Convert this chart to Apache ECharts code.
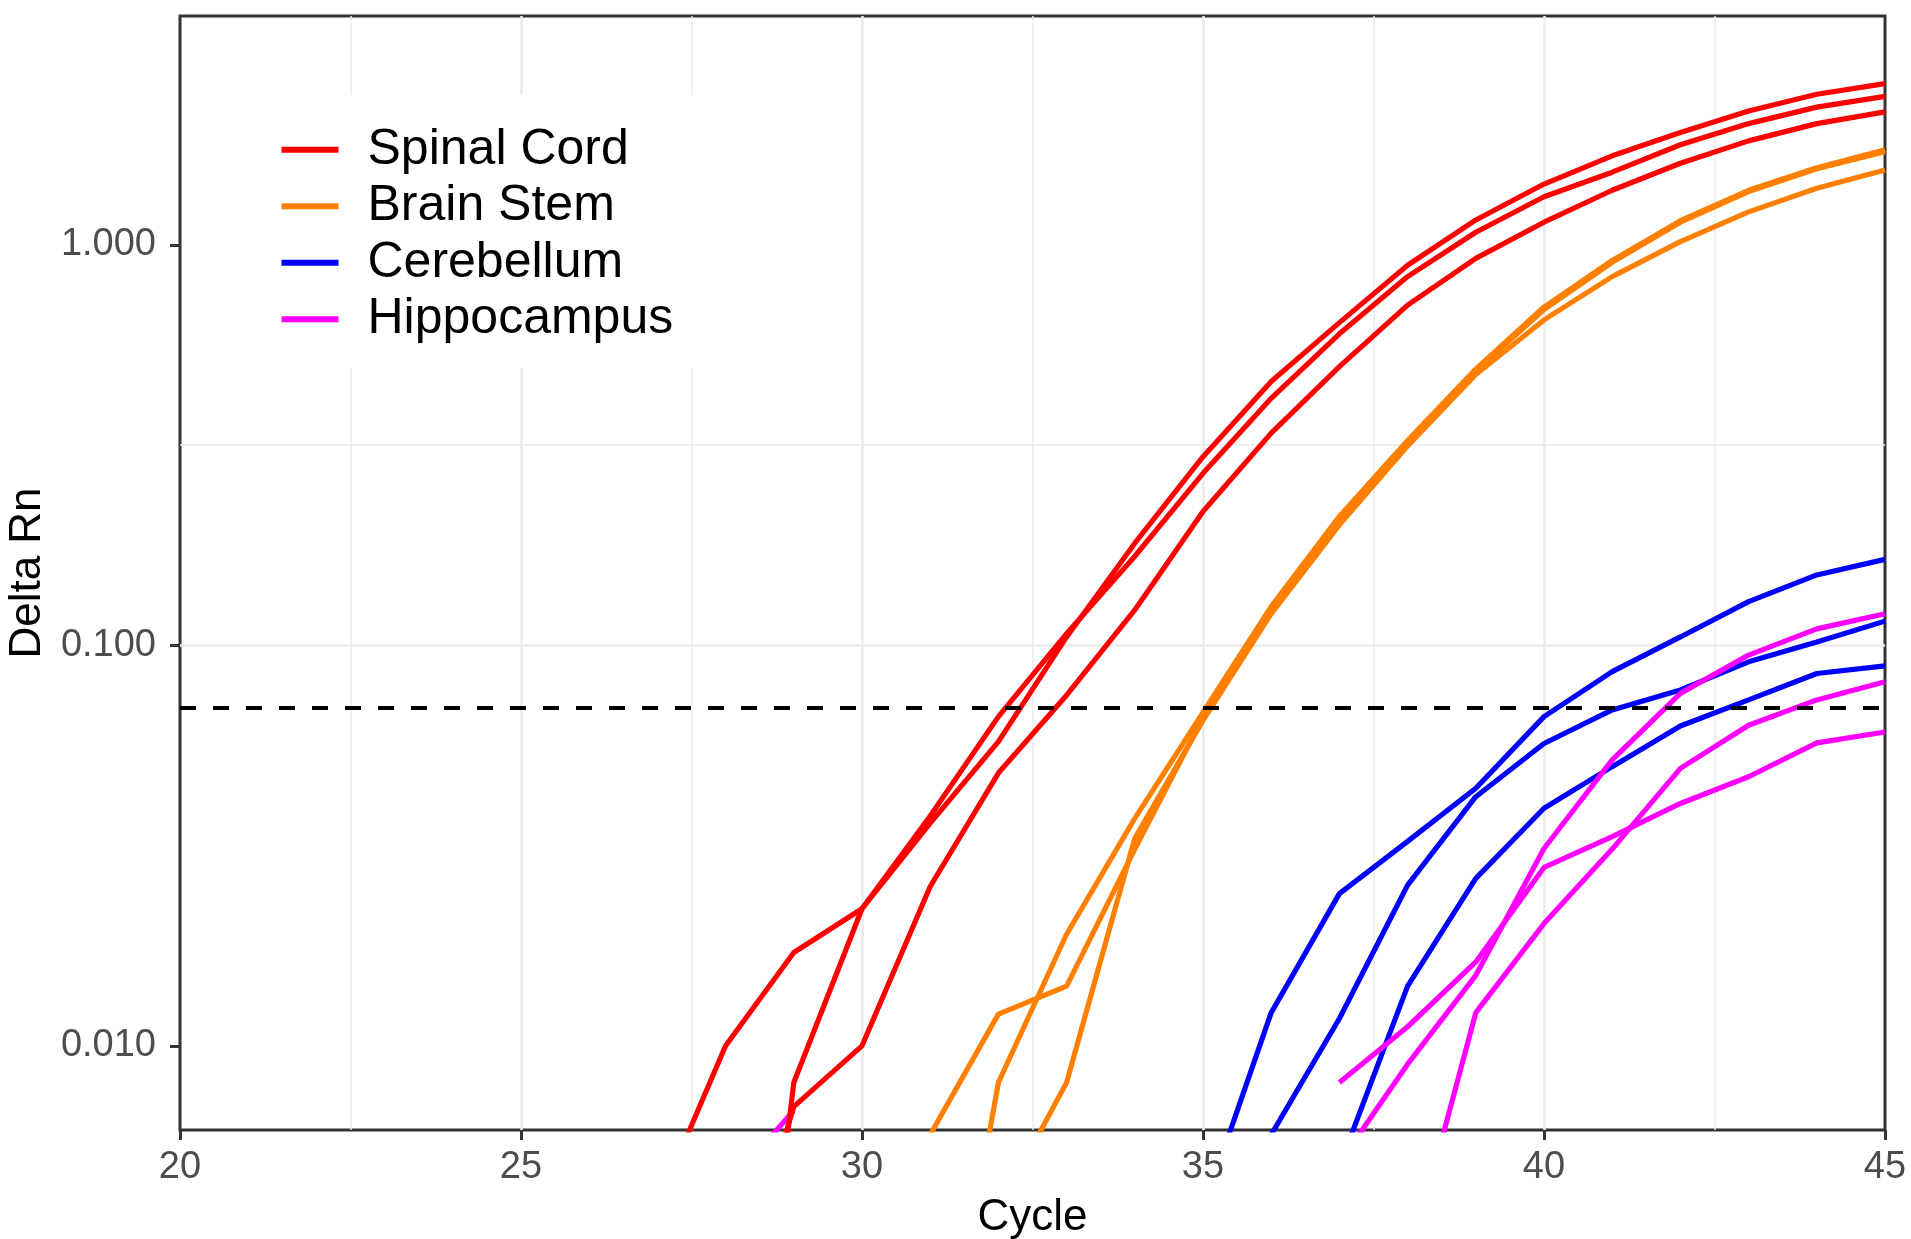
<!DOCTYPE html>
<html>
<head>
<meta charset="utf-8">
<script src="https://cdn.jsdelivr.net/npm/echarts@6/dist/echarts.min.js"></script>
<style>
html,body{margin:0;padding:0;background:#ffffff;}
#chart{width:1911px;height:1239px;}
</style>
</head>
<body>
<div id="chart"></div>
<script>
// ---------------- data ----------------
const cycles = [27, 28, 29, 30, 31, 32, 33, 34, 35, 36, 37, 38, 39, 40, 41, 42, 43, 44, 45];

const spinalCord1 = [0.0040, 0.0100, 0.0171, 0.0220, 0.0375, 0.0664, 0.107, 0.167, 0.269, 0.414, 0.60, 0.834, 1.076, 1.32, 1.52, 1.78, 2.01, 2.21, 2.35];
const spinalCord2 = [null, 0.0003, 0.0081, 0.0220, 0.036, 0.0575, 0.105, 0.18, 0.296, 0.456, 0.64, 0.89, 1.155, 1.42, 1.67, 1.91, 2.16, 2.38, 2.53];
const spinalCord3 = [null, 0.0019, 0.00705, 0.0100, 0.025, 0.048, 0.0751, 0.1226, 0.216, 0.339, 0.497, 0.708, 0.926, 1.14, 1.37, 1.60, 1.82, 2.01, 2.15];

const brainStem1 = [null, null, null, null, 0.0060, 0.0120, 0.0141, 0.031, 0.066, 0.122, 0.205, 0.322, 0.485, 0.69, 0.905, 1.14, 1.36, 1.55, 1.71];
const brainStem2 = [null, null, null, null, 0.0009, 0.0081, 0.0190, 0.037, 0.068, 0.125, 0.21, 0.325, 0.49, 0.70, 0.915, 1.15, 1.37, 1.56, 1.73];
const brainStem3 = [null, null, null, null, null, 0.0039, 0.0081, 0.033, 0.065, 0.12, 0.20, 0.315, 0.475, 0.65, 0.834, 1.02, 1.21, 1.386, 1.54];

const cerebellum1 = [null, null, null, null, null, null, null, null, 0.0039, 0.0121, 0.0240, 0.0324, 0.044, 0.0664, 0.086, 0.105, 0.1286, 0.150, 0.164];
const cerebellum2 = [null, null, null, null, null, null, null, null, null, 0.0060, 0.0117, 0.0252, 0.0419, 0.0569, 0.069, 0.0774, 0.091, 0.102, 0.115];
const cerebellum3 = [null, null, null, null, null, null, null, null, null, null, 0.0050, 0.0141, 0.0262, 0.0392, 0.0498, 0.0629, 0.0731, 0.0851, 0.0889];

const hippocampus1 = [null, 0.0044, 0.0069, null, null, null, null, null, null, null, 0.0081, 0.01116, 0.0162, 0.0279, 0.0333, 0.0403, 0.047, 0.0571, 0.0608];
const hippocampus2 = [null, null, null, null, null, null, null, null, null, null, 0.0051, 0.0090, 0.0150, 0.0311, 0.0518, 0.0759, 0.0946, 0.110, 0.120];
const hippocampus3 = [null, null, null, null, null, null, null, null, null, null, null, 0.0028, 0.0121, 0.0202, 0.031, 0.0493, 0.0632, 0.0731, 0.0811];

const threshold = 0.068;

const xTicks = [20, 25, 30, 35, 40, 45];
const yTicks = [0.01, 0.1, 1];
const yMinorTicks = [0.0316228, 0.316228, 3.16228];
const legendNames = ['Spinal Cord', 'Brain Stem', 'Cerebellum', 'Hippocampus'];

// ---------------- chart ----------------
const FONT = '"Liberation Sans", Arial, Helvetica, sans-serif';
const Y_MIN = 0.006163;
const Y_MAX = 3.732;

const groups = [
  { name: 'Cerebellum', color: '#0000FF', reps: [cerebellum1, cerebellum2, cerebellum3] },
  { name: 'Hippocampus', color: '#FF00FF', reps: [hippocampus1, hippocampus2, hippocampus3] },
  { name: 'Brain Stem', color: '#FF8000', reps: [brainStem1, brainStem2, brainStem3] },
  { name: 'Spinal Cord', color: '#FF0000', reps: [spinalCord1, spinalCord2, spinalCord3] }
];

const series = [];
groups.forEach(g => {
  g.reps.forEach(vals => {
    series.push({
      type: 'line',
      name: g.name,
      color: g.color,
      data: cycles.map((c, i) => [c, vals[i]]),
      showSymbol: false,
      symbol: 'none',
      connectNulls: false,
      clip: true,
      lineStyle: { color: g.color, width: 5.2 },
      emphasis: { disabled: true },
      z: 2
    });
  });
});
series.push({
  type: 'line',
  name: 'threshold',
  data: [],
  z: 5,
  markLine: {
    silent: true,
    symbol: ['none', 'none'],
    label: { show: false },
    lineStyle: { color: '#000000', type: [16, 17], width: 4 },
    emphasis: { disabled: true },
    data: [{ yAxis: threshold }]
  }
});

const option = {
  animation: false,
  backgroundColor: '#ffffff',
  grid: {
    left: 180, top: 16, width: 1705, height: 1114,
    outerBoundsMode: 'none',
    containLabel: false,
    show: true, borderColor: '#333333', borderWidth: 3, backgroundColor: 'transparent'
  },
  legend: {
    orient: 'vertical',
    left: 250, top: 95,
    padding: [26.5, 28, 20.5, 31.5],
    backgroundColor: '#ffffff',
    itemWidth: 57, itemHeight: 6, itemGap: 0,
    icon: 'rect',
    selectedMode: false,
    textStyle: { fontSize: 50, color: '#000000', lineHeight: 56.5, fontFamily: FONT, padding: [0, 0, 0, 24] },
    data: legendNames
  },
  xAxis: {
    type: 'value', min: xTicks[0], max: xTicks[xTicks.length - 1], interval: 5,
    position: 'bottom',
    axisLine: { show: false },
    axisTick: { show: true, length: 10, lineStyle: { color: '#333333', width: 3 } },
    axisLabel: { fontSize: 38, color: '#4D4D4D', margin: 19, fontFamily: FONT },
    splitLine: { show: true, showMinLine: false, showMaxLine: false, lineStyle: { color: '#EBEBEB', width: 2.6 } },
    minorTick: { show: false, splitNumber: 2 },
    minorSplitLine: { show: true, lineStyle: { color: '#EBEBEB', width: 1.5 } },
    name: 'Cycle', nameLocation: 'middle', nameGap: 66,
    nameTextStyle: { fontSize: 44, color: '#000000', fontFamily: FONT }
  },
  yAxis: [
    {
      type: 'log', logBase: 10, min: Y_MIN, max: Y_MAX, position: 'left',
      axisLine: { show: false },
      axisTick: { show: true, length: 10, lineStyle: { color: '#333333', width: 3 }, customValues: yTicks },
      axisLabel: {
        customValues: yTicks, fontSize: 38, color: '#4D4D4D', margin: 24, fontFamily: FONT,
        formatter: v => Number(v).toFixed(3)
      },
      splitLine: { show: true, showMinLine: false, showMaxLine: false, lineStyle: { color: '#EBEBEB', width: 2.6 } },
      name: 'Delta Rn', nameLocation: 'middle', nameGap: 130, nameRotate: 90,
      nameTextStyle: { fontSize: 44, color: '#000000', fontFamily: FONT }
    },
    {
      type: 'log', logBase: 10, min: Y_MIN, max: Y_MAX, position: 'left',
      axisLine: { show: false },
      axisTick: { show: false, customValues: yMinorTicks },
      axisLabel: { show: false, customValues: yMinorTicks },
      splitLine: { show: true, showMinLine: false, showMaxLine: false, lineStyle: { color: '#EBEBEB', width: 1.5 } }
    }
  ],
  series: series
};

const chart = echarts.init(document.getElementById('chart'), null, { renderer: 'canvas' });
chart.setOption(option);
</script>
</body>
</html>
